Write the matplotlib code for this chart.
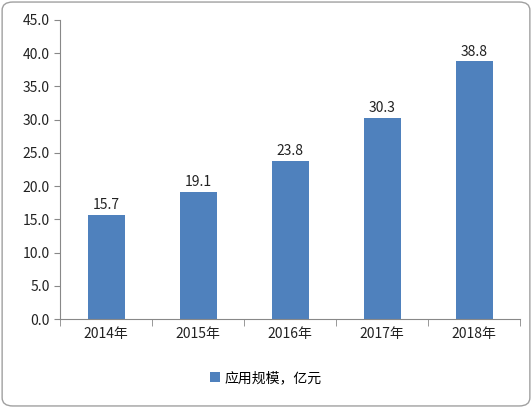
import matplotlib
matplotlib.use("Agg")
import matplotlib.pyplot as plt
from matplotlib.patches import FancyBboxPatch

plt.rcParams['font.family'] = ['Noto Sans CJK SC', 'DejaVu Sans']

categories = ['2014年', '2015年', '2016年', '2017年', '2018年']
values = [15.7, 19.1, 23.8, 30.3, 38.8]
series_name = '应用规模，亿元'

fig = plt.figure(figsize=(5.32, 4.08), dpi=100)
fig.patches.append(FancyBboxPatch((0.004, 0.005), 0.992, 0.99, boxstyle="round,pad=0,rounding_size=0.02",
                                  transform=fig.transFigure, fill=False, edgecolor='#a0a0a0', lw=1))
ax = fig.add_axes([0.113, 0.218, 0.865, 0.733])
x = range(len(categories))
bars = ax.bar(x, values, width=0.4, color='#4f81bd', label=series_name)
for xi, v in zip(x, values):
    ax.text(xi, v + 0.4, f'{v:.1f}', ha='center', va='bottom', fontsize=10, color='#222222')
ax.set_xlim(-0.5, 4.5)
ax.set_ylim(0, 45)
ax.set_yticks([i * 5 for i in range(10)])
ax.set_yticklabels([f'{i*5:.1f}' for i in range(10)], fontsize=10, color='#222222')
ax.set_xticks(list(x))
ax.set_xticklabels(categories, fontsize=10, color='#222222')
ax.tick_params(axis='x', length=0, pad=6)
ax.set_xticks([i + 0.5 for i in range(-1, 5)], minor=True)
ax.tick_params(axis='x', which='minor', length=5, color='#888888')
ax.tick_params(axis='y', length=4, color='#888888')
for s in ['top', 'right']:
    ax.spines[s].set_visible(False)
for s in ['left', 'bottom']:
    ax.spines[s].set_color('#888888')
fig.legend(handles=[bars], labels=[series_name], loc='center', bbox_to_anchor=(0.5, 0.073),
           frameon=False, fontsize=10, handlelength=0.7, handleheight=0.7, handletextpad=0.3)
fig.savefig('out.png', dpi=100)
